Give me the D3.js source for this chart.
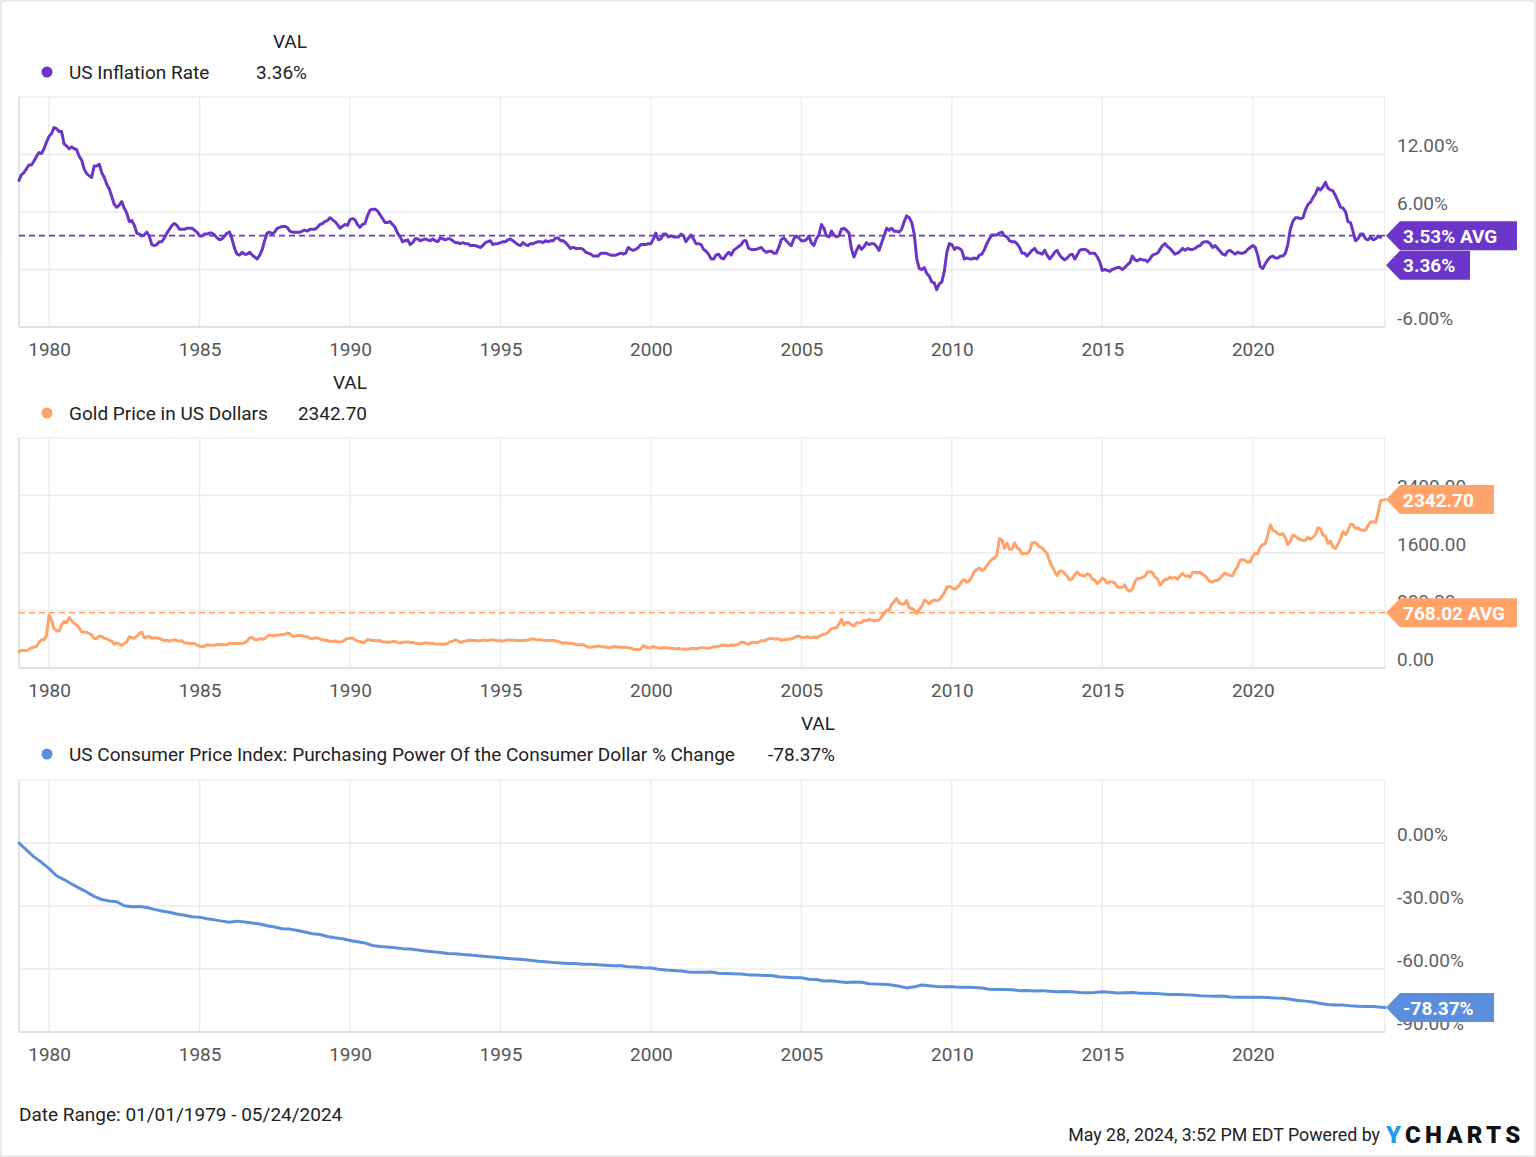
<!DOCTYPE html>
<html><head><meta charset="utf-8">
<script src="https://cdn.jsdelivr.net/npm/d3@7/dist/d3.min.js"></script>
<style>
body{margin:0;background:#fff}
svg text{font-family:Roboto,"Noto Sans",sans-serif}
</style>
</head><body>
<svg id="c" width="1536" height="1157"></svg>
<script>
// ---------------- DATA ----------------
const dateStart = "1979-01-01";
const dateEnd = "2024-05-24";
const xTickYears = [1980,1985,1990,1995,2000,2005,2010,2015,2020];

// US Inflation Rate, monthly from Jan 1979 (%)
const inflationRate = [
9.3,9.9,10.1,10.5,10.9,10.9,11.3,11.8,12.2,12.1,12.6,13.3,
13.9,14.2,14.8,14.7,14.4,14.4,13.1,12.9,12.6,12.8,12.6,12.5,
11.8,11.4,10.5,10.0,9.8,9.6,10.8,10.8,11.0,10.1,9.6,8.9,
8.4,7.6,6.8,6.5,6.7,7.1,6.4,5.9,5.0,5.1,4.6,3.8,
3.7,3.5,3.6,3.9,3.5,2.6,2.5,2.6,2.9,2.9,3.3,3.8,
4.2,4.6,4.8,4.6,4.2,4.2,4.2,4.3,4.3,4.3,4.1,3.9,
3.5,3.5,3.7,3.7,3.8,3.8,3.6,3.3,3.1,3.2,3.5,3.8,
3.9,3.1,2.2,1.6,1.5,1.8,1.6,1.6,1.8,1.5,1.3,1.1,
1.5,2.1,3.0,3.8,3.9,3.7,3.9,4.3,4.4,4.5,4.5,4.4,
4.0,3.9,3.9,3.9,3.9,4.0,4.1,4.0,4.2,4.2,4.2,4.4,
4.7,4.8,5.0,5.1,5.4,5.2,5.0,4.7,4.3,4.5,4.7,4.6,
5.2,5.3,5.2,4.7,4.4,4.7,4.8,5.6,6.2,6.3,6.3,6.1,
5.7,5.3,4.9,4.9,5.0,4.7,4.4,3.8,3.4,2.9,3.0,3.1,
2.6,2.8,3.2,3.2,3.0,3.1,3.2,3.1,3.0,3.2,3.0,2.9,
3.3,3.2,3.1,3.2,3.2,3.0,2.8,2.8,2.7,2.8,2.7,2.7,
2.5,2.5,2.5,2.4,2.3,2.5,2.8,2.9,3.0,2.6,2.7,2.7,
2.8,2.9,2.9,3.1,3.2,3.0,2.8,2.6,2.5,2.8,2.6,2.5,
2.7,2.7,2.8,2.9,2.9,2.8,3.0,2.9,3.0,3.0,3.3,3.3,
3.0,3.0,2.8,2.5,2.2,2.3,2.2,2.2,2.2,2.1,1.8,1.7,
1.6,1.4,1.4,1.4,1.7,1.7,1.7,1.6,1.5,1.5,1.5,1.6,
1.7,1.6,1.7,2.3,2.1,2.0,2.1,2.3,2.6,2.6,2.6,2.7,
2.7,3.2,3.8,3.1,3.2,3.7,3.7,3.4,3.5,3.4,3.4,3.4,
3.7,3.5,2.9,3.3,3.6,3.2,2.7,2.7,2.6,2.1,1.9,1.6,
1.1,1.1,1.5,1.6,1.2,1.1,1.5,1.8,1.5,2.0,2.2,2.4,
2.6,3.0,3.0,2.2,2.1,2.1,2.1,2.2,2.3,2.0,1.8,1.9,
1.9,1.7,1.7,2.3,3.1,3.3,3.0,2.7,2.5,3.2,3.5,3.3,
3.0,3.0,3.1,3.5,2.8,2.5,3.2,3.6,4.7,4.3,3.5,3.4,
4.0,3.6,3.4,3.5,4.2,4.3,4.1,3.8,2.1,1.3,2.0,2.5,
2.1,2.4,2.8,2.6,2.7,2.7,2.4,2.0,2.8,3.5,4.3,4.1,
4.3,4.0,4.0,3.9,4.2,5.0,5.6,5.4,4.9,3.7,1.1,0.1,
0.0,0.2,-0.4,-0.7,-1.3,-1.4,-2.1,-1.5,-1.3,-0.2,1.8,2.7,
2.6,2.1,2.3,2.2,2.0,1.1,1.2,1.1,1.1,1.2,1.1,1.5,
1.6,2.1,2.7,3.2,3.6,3.6,3.6,3.8,3.9,3.5,3.4,3.0,
2.9,2.9,2.7,2.3,1.7,1.7,1.4,1.7,2.0,2.2,1.8,1.7,
1.6,2.0,1.5,1.1,1.4,1.8,2.0,1.5,1.2,1.0,1.2,1.5,
1.6,1.1,1.5,2.0,2.1,2.1,2.0,1.7,1.7,1.7,1.3,0.8,
-0.1,0.0,-0.1,-0.2,0.0,0.1,0.2,0.2,0.0,0.2,0.5,0.7,
1.4,1.0,0.9,1.1,1.0,1.0,0.8,1.1,1.5,1.6,1.7,2.1,
2.5,2.7,2.4,2.2,1.9,1.6,1.7,1.9,2.2,2.0,2.2,2.1,
2.1,2.2,2.4,2.5,2.8,2.9,2.9,2.7,2.3,2.5,2.2,1.9,
1.6,1.5,1.9,2.0,1.8,1.6,1.8,1.7,1.7,1.8,2.1,2.3,
2.5,2.3,1.5,0.3,0.1,0.6,1.0,1.3,1.4,1.2,1.2,1.4,
1.4,1.7,2.6,4.2,5.0,5.4,5.4,5.3,5.4,6.2,6.8,7.0,
7.5,7.9,8.5,8.3,8.6,9.1,8.5,8.3,8.2,7.7,7.1,6.5,
6.4,6.0,5.0,4.9,4.0,3.0,3.2,3.7,3.7,3.2,3.1,3.4,
3.1,3.2,3.5,3.36
];
const inflationAvg = 3.53;

// Gold price in US dollars, monthly from Jan 1979, then last quote
const goldPrice = [
227,245,242,239,257,279,295,301,355,392,392,456,
735,665,554,517,514,600,645,627,700,661,623,596,
557,500,499,495,480,461,409,411,443,437,413,410,
384,374,330,350,334,315,339,364,435,422,415,444,
481,500,421,432,438,413,422,416,411,394,382,388,
371,387,394,381,377,378,348,348,341,340,341,320,
303,299,304,325,316,317,317,329,324,326,325,322,
345,339,346,340,342,343,348,376,418,423,396,391,
408,401,409,438,460,450,451,461,460,465,467,487,
477,442,443,452,451,452,437,433,413,406,420,418,
404,388,390,384,371,368,375,365,362,367,394,409,
410,417,393,374,369,352,362,395,389,381,381,378,
383,364,363,358,357,367,368,356,348,358,360,361,
354,354,345,338,337,341,353,343,345,344,335,334,
329,329,330,342,367,372,392,379,355,365,374,383,
387,382,384,377,381,385,385,380,392,389,384,379,
379,377,382,391,385,387,386,383,383,383,386,387,
400,405,396,393,392,385,383,387,383,381,378,369,
355,346,352,344,344,341,324,324,323,325,306,289,
289,297,296,308,300,292,293,284,289,296,294,291,
287,287,286,282,277,261,256,257,265,311,293,283,
284,300,286,280,275,286,282,274,274,270,266,272,
266,262,263,261,272,270,268,273,283,283,276,276,
282,296,294,302,314,321,314,310,319,317,319,333,
357,359,340,328,355,356,351,360,379,379,390,407,
414,405,406,404,384,392,398,401,406,420,439,442,
424,423,434,429,422,431,424,438,456,470,476,510,
549,555,557,610,676,596,633,632,598,585,627,629,
631,665,655,679,667,655,665,665,712,754,806,803,
889,923,970,909,888,889,939,839,829,806,760,816,
858,943,925,890,928,946,934,949,996,1043,1127,1135,
1118,1095,1114,1149,1205,1232,1193,1215,1271,1343,1370,1391,
1356,1372,1424,1473,1511,1529,1572,1800,1780,1665,1739,1652,
1656,1742,1673,1650,1585,1596,1593,1626,1744,1747,1722,1684,
1670,1627,1592,1485,1414,1343,1286,1347,1349,1316,1275,1225,
1244,1300,1336,1299,1287,1279,1311,1296,1239,1222,1176,1202,
1251,1227,1179,1198,1199,1182,1131,1117,1125,1157,1086,1068,
1097,1200,1246,1242,1260,1276,1337,1341,1326,1267,1238,1151,
1192,1234,1231,1266,1246,1260,1236,1283,1315,1280,1283,1265,
1331,1331,1325,1335,1303,1282,1238,1202,1198,1215,1221,1250,
1291,1320,1300,1286,1284,1359,1413,1500,1510,1495,1471,1479,
1560,1597,1591,1683,1716,1732,1847,1990,1921,1900,1866,1858,
1867,1808,1718,1760,1850,1834,1807,1785,1775,1777,1821,1790,
1817,1856,1948,1937,1849,1836,1733,1765,1681,1664,1726,1798,
1898,1854,1913,2000,1992,1943,1951,1919,1916,1916,1985,2030,
2034,2023,2159,2331
];
const goldLast = 2342.70;
const goldAvg = 768.02;

// Purchasing power of the consumer dollar, % change, quarterly from Jan 1979
const purchasingPower = [
0.0,-3.3,-6.6,-9.2, -12.2,-15.6,-17.4,-19.5, -21.5,-23.3,-25.4,-26.9,
-27.6,-28.0,-29.9,-30.4, -30.2,-30.7,-31.6,-32.4, -33.0,-33.8,-34.4,-35.1,
-35.3,-36.1,-36.6,-37.2, -37.7,-37.2,-37.6,-38.1, -38.6,-39.4,-40.0,-40.8,
-41.0,-41.7,-42.4,-43.2, -43.6,-44.5,-45.1,-45.6, -46.4,-47.0,-47.6,-48.8,
-49.3,-49.5,-49.9,-50.3, -50.5,-51.0,-51.4,-51.8, -52.1,-52.6,-52.7,-53.1,
-53.3,-53.7,-54.0,-54.3, -54.6,-55.0,-55.2,-55.5, -55.8,-56.3,-56.5,-56.9,
-57.1,-57.4,-57.4,-57.7, -57.7,-58.0,-58.2,-58.4, -58.4,-58.9,-59.0,-59.4,
-59.5,-60.1,-60.5,-60.7, -61.0,-61.4,-61.5,-61.6, -61.4,-62.0,-62.1,-62.3,
-62.4,-62.8,-62.9,-63.1, -63.1,-63.7,-63.9,-64.2, -64.2,-64.9,-65.0,-65.7,
-65.6,-66.1,-66.4,-66.2, -66.3,-67.0,-67.2,-67.3, -67.6,-68.2,-69.0,-68.5,
-67.6,-68.0,-68.3,-68.4, -68.5,-68.7,-68.7,-68.8, -69.0,-69.6,-69.8,-69.8,
-69.9,-70.3,-70.2,-70.5, -70.3,-70.6,-70.8,-70.7, -70.8,-71.2,-71.3,-71.2,
-70.8,-71.1,-71.4,-71.3, -71.2,-71.5,-71.6,-71.7, -71.9,-72.1,-72.1,-72.3,
-72.4,-72.7,-72.9,-73.0, -72.9,-73.3,-73.4,-73.5, -73.5,-73.4,-73.6,-73.8,
-73.9,-74.4,-75.0,-75.3, -75.7,-76.4,-76.9,-77.1, -77.2,-77.5,-77.7,-77.8,
-77.9,-78.2,-78.37
];

const legendNames = ["US Inflation Rate","Gold Price in US Dollars","US Consumer Price Index: Purchasing Power Of the Consumer Dollar % Change"];
const legendValues = ["3.36%","2342.70","-78.37%"];
const seriesColors = ["#6a35c8","#ffa36a","#5b8fdd"];
const yDomains = [[-6,18],[0,3200],[-90,30]];
const yTicks = [[-6,0,6,12],[0,800,1600,2400],[-90,-60,-30,0]];

// ---------------- BUILD ----------------
const parse = d3.timeParse("%Y-%m-%d");
const monthSeries = (vals, stepMonths) => vals.map((v,i)=>({date:new Date(1979, i*stepMonths, 1), value:v}));

const infData = monthSeries(inflationRate,1);
const goldData = monthSeries(goldPrice,1).concat([{date:parse(dateEnd), value:goldLast}]);
const ppData = purchasingPower.slice(0,-1).map((v,i)=>({date:new Date(1979,i*3,1), value:v}))
  .concat([{date:parse(dateEnd), value:purchasingPower[purchasingPower.length-1]}]);

const svg = d3.select("#c");
svg.append("rect").attr("x",0.5).attr("y",0.5).attr("width",1535).attr("height",1156)
  .attr("fill","#fff").attr("stroke","#e6e6e6").attr("stroke-width",2).attr("rx",3);

const X0 = 19, X1 = 1385;
const x = d3.scaleTime().domain([parse(dateStart), parse(dateEnd)]).range([X0, X1]);

const panels = [
  {data:infData, top:97, bottom:327, fmt:d=>d.toFixed(2)+"%", avg:inflationAvg, avgLabel:inflationAvg.toFixed(2)+"% AVG", last:3.36,
   legY:72, valRight:307},
  {data:goldData, top:438, bottom:668, fmt:d=>d.toFixed(2), avg:goldAvg, avgLabel:goldAvg.toFixed(2)+" AVG", last:goldLast,
   legY:413, valRight:367},
  {data:ppData, top:780, bottom:1032, fmt:d=>d.toFixed(2)+"%", avg:null, last:-78.37,
   legY:754, valRight:835}
];
const badgeWidths = [[131,84],[131,108],[108]];

panels.forEach((p,i)=>{
  const color = seriesColors[i];
  const y = d3.scaleLinear().domain(yDomains[i]).range([p.bottom, p.top]);
  const g = svg.append("g");

  // legend
  g.append("text").attr("x",p.valRight).attr("y",p.legY-24).attr("text-anchor","end")
    .attr("font-size",19).attr("fill","#222").text("VAL");
  g.append("circle").attr("cx",47).attr("cy",p.legY).attr("r",5.5).attr("fill",color);
  g.append("text").attr("x",69).attr("y",p.legY+7).attr("font-size",19).attr("fill","#222").text(legendNames[i]);
  g.append("text").attr("x",p.valRight).attr("y",p.legY+7).attr("text-anchor","end")
    .attr("font-size",19).attr("fill","#222").text(legendValues[i]);

  // frame
  g.append("rect").attr("x",X0).attr("y",p.top).attr("width",X1-X0).attr("height",p.bottom-p.top)
    .attr("fill","#fff").attr("stroke","#e6e6e6").attr("stroke-width",1);

  // grid
  g.append("g").selectAll("line").data(yTicks[i]).join("line")
    .attr("x1",X0).attr("x2",X1).attr("y1",d=>y(d)).attr("y2",d=>y(d))
    .attr("stroke","#ebebeb").attr("stroke-width",1.3);
  g.append("g").selectAll("line").data(xTickYears).join("line")
    .attr("x1",d=>x(new Date(d,0,1))).attr("x2",d=>x(new Date(d,0,1)))
    .attr("y1",p.top).attr("y2",p.bottom).attr("stroke","#ebebeb").attr("stroke-width",1.3);
  g.append("line").attr("x1",X0).attr("x2",X0).attr("y1",p.top).attr("y2",p.bottom).attr("stroke","#dcdcdc").attr("stroke-width",1.5);
  g.append("line").attr("x1",X0).attr("x2",X1).attr("y1",p.bottom).attr("y2",p.bottom).attr("stroke","#dcdcdc").attr("stroke-width",1.5);

  // x axis labels
  const xa = d3.axisBottom(x).tickValues(xTickYears.map(yy=>new Date(yy,0,1))).tickSize(0).tickFormat(d3.timeFormat("%Y"));
  const xg = g.append("g").attr("transform",`translate(0,${p.bottom})`).call(xa);
  xg.select(".domain").remove();
  xg.selectAll("text").attr("font-size",19).attr("fill","#555").attr("dy",0).attr("y",29)
    .style("font-family","Roboto,sans-serif");

  // y axis labels
  const ya = d3.axisRight(y).tickValues(yTicks[i]).tickSize(0).tickFormat(p.fmt);
  const yg = g.append("g").attr("transform",`translate(${X1+12},0)`).call(ya);
  yg.select(".domain").remove();
  yg.selectAll("text").attr("font-size",19).attr("fill","#5f5f5f").attr("x",0).attr("dy",0).attr("y",-3)
    .style("font-family","Roboto,sans-serif");

  // avg line
  if (p.avg !== null) {
    g.append("line").attr("x1",X0).attr("x2",X1).attr("y1",y(p.avg)).attr("y2",y(p.avg))
      .attr("stroke",color).attr("stroke-width",1.6).attr("stroke-dasharray","6,4");
  }

  // series line
  g.append("path").datum(p.data)
    .attr("d",d3.line().x(d=>x(d.date)).y(d=>y(d.value)))
    .attr("fill","none").attr("stroke",color).attr("stroke-width",3)
    .attr("stroke-linejoin","round").attr("stroke-linecap","round");

  // badges
  const badges = [];
  if (p.avg !== null) badges.push({yc:y(p.avg), label:p.avgLabel});
  badges.push({yc:y(p.last), label:legendValues[i]});
  const H = 29;
  for (let k=1;k<badges.length;k++){
    const prev = badges[k-1];
    if (Math.abs(badges[k].yc - prev.yc) < H) badges[k].yc = prev.yc + H + 0.5;
  }
  badges.forEach((b,k)=>{
    const bx = X1+1;
    const bg = g.append("g");
    const w = badgeWidths[i][k];
    bg.append("path").attr("d",`M${bx},${b.yc} L${bx+14},${b.yc-H/2} L${bx+w},${b.yc-H/2} L${bx+w},${b.yc+H/2} L${bx+14},${b.yc+H/2} Z`)
      .attr("fill",color);
    bg.append("text").attr("x",bx+17).attr("y",b.yc+7).attr("font-size",19)
      .attr("font-weight","bold").attr("fill","#fff").text(b.label);
  });
});

// footer
svg.append("text").attr("x",19).attr("y",1121).attr("font-size",19).attr("fill","#222")
  .text("Date Range: 01/01/1979 - 05/24/2024");
svg.append("text").attr("x",1380).attr("y",1141).attr("text-anchor","end").attr("font-size",17.8).attr("fill","#222")
  .text("May 28, 2024, 3:52 PM EDT Powered by");
const logo = svg.append("text").attr("x",1386).attr("y",1143).attr("font-size",24).attr("font-weight",900)
  .attr("letter-spacing",4.2).attr("fill","#111");
logo.append("tspan").attr("fill","#1e9be9").text("Y");
logo.append("tspan").text("CHARTS");
</script>
</body></html>
